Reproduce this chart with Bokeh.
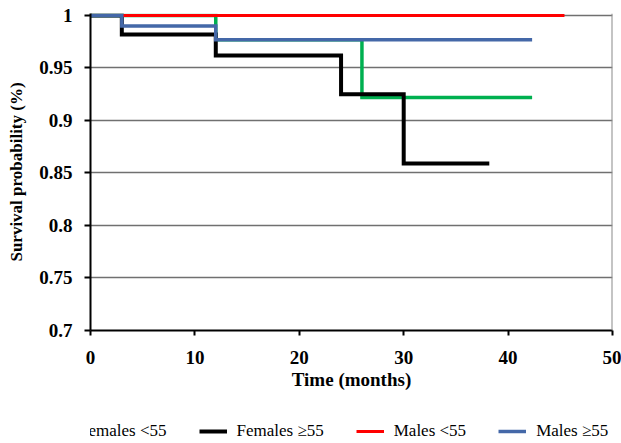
from bokeh.plotting import figure
from bokeh.layouts import column
from bokeh.models import Range1d, FixedTicker, Legend, LegendItem, Span
from bokeh.embed import file_html
from bokeh.resources import INLINE

# ---- data ----
fem_lt55_t = [0, 12, 26, 42.3]
fem_lt55_s = [1.0, 0.977, 0.922, 0.922]

fem_ge55_t = [0, 3, 12, 24, 30, 38.2]
fem_ge55_s = [1.0, 0.982, 0.962, 0.925, 0.859, 0.859]

mal_lt55_t = [0, 45.4]
mal_lt55_s = [1.0, 1.0]

mal_ge55_t = [0, 3, 12, 42.3]
mal_ge55_s = [1.0, 0.990, 0.977, 0.977]

x_ticks = [0, 10, 20, 30, 40, 50]
y_ticks = [0.7, 0.75, 0.8, 0.85, 0.9, 0.95, 1.0]
y_tick_labels = ["0.7", "0.75", "0.8", "0.85", "0.9", "0.95", "1"]

series_names = ["Females <55", "Females \u226555", "Males <55", "Males \u226555"]
series_colors = ["#00b050", "#000000", "#ff0000", "#4468a8"]
series_widths = [3.5, 4, 3, 3.5]

SERIF = "Liberation Serif"

p = figure(width=621, height=405, output_backend="svg", toolbar_location=None,
           x_range=Range1d(0, 50), y_range=Range1d(0.7, 1.0019),
           min_border_left=90, min_border_right=9, min_border_top=13,
           min_border_bottom=75)
p.outline_line_color = None
p.background_fill_color = "white"
p.border_fill_color = "white"

# grid
p.xgrid.visible = False
p.ygrid.ticker = FixedTicker(ticks=y_ticks)
p.ygrid.grid_line_color = "#707070"
p.ygrid.grid_line_width = 1.5

# right border
p.add_layout(Span(location=50, dimension="height", line_color="#8a8a8a", line_width=2))

# axes
p.xaxis.ticker = FixedTicker(ticks=x_ticks)
p.yaxis.ticker = FixedTicker(ticks=y_ticks)
p.yaxis.major_label_overrides = {t: l for t, l in zip(y_ticks, y_tick_labels)}
for ax in (p.xaxis[0], p.yaxis[0]):
    ax.axis_line_color = "black"
    ax.axis_line_width = 2
    ax.major_tick_line_color = "black"
    ax.major_tick_line_width = 2
    ax.major_tick_in = 0
    ax.minor_tick_line_color = None
    ax.major_label_text_font = SERIF
    ax.major_label_text_font_style = "bold"
    ax.major_label_text_font_size = "19px"
    ax.major_label_text_color = "black"
    ax.axis_label_text_font = SERIF
    ax.axis_label_text_font_style = "bold"
    ax.axis_label_text_color = "black"
p.xaxis.major_tick_out = 5
p.yaxis.major_tick_out = 6
p.xaxis.major_label_standoff = 15
p.yaxis.major_label_standoff = 12
p.xaxis.axis_label = "Time (months)"
p.yaxis.axis_label = "Survival probability (%)"
p.xaxis.axis_label_text_font_size = "19px"
p.yaxis.axis_label_text_font_size = "17px"
p.xaxis.axis_label_standoff = 2
p.yaxis.axis_label_standoff = 10

data = [(fem_lt55_t, fem_lt55_s), (fem_ge55_t, fem_ge55_s),
        (mal_lt55_t, mal_lt55_s), (mal_ge55_t, mal_ge55_s)]

# curves
for (t, s), c, w in zip(data, series_colors, series_widths):
    p.step(t, s, mode="after", line_color=c, line_width=w,
           line_join="miter", line_cap="butt")

# legend strip below the chart (same series, out of view, only used for the key)
lg = figure(width=621, height=38, output_backend="svg", toolbar_location=None,
            x_range=Range1d(-20, -10), y_range=Range1d(0, 1),
            x_axis_type=None, y_axis_type=None,
            min_border_left=0, min_border_right=0, min_border_top=0,
            min_border_bottom=0)
lg.outline_line_color = None
lg.xgrid.visible = False
lg.ygrid.visible = False
lg_renderers = []
for (t, s), c, w in zip(data, series_colors, series_widths):
    lg_renderers.append(lg.step(t, s, mode="after", line_color=c, line_width=w,
                                line_cap="butt"))

items = [LegendItem(label=n, renderers=[r]) for n, r in zip(series_names, lg_renderers)]
legend = Legend(items=items, orientation="horizontal", location=(-49, 2),
                label_text_font=SERIF, label_text_font_size="17px",
                label_text_color="black", glyph_width=28, glyph_height=18,
                label_height=18, label_standoff=10, spacing=32, padding=0,
                margin=0, border_line_color=None, background_fill_alpha=0)
lg.add_layout(legend, "center")

layout = column(p, lg, spacing=0)
open("out.html", "w").write(file_html(layout, INLINE))
